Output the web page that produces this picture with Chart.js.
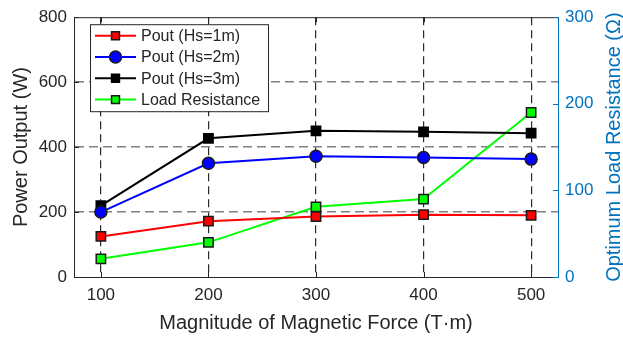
<!DOCTYPE html>
<html>
<head>
<meta charset="utf-8">
<script src="https://cdn.jsdelivr.net/npm/chart.js@4/dist/chart.umd.min.js"></script>
<style>
    html, body { margin: 0; padding: 0; background: #ffffff; }
    canvas { display: block; }
</style>
</head>
<body>
<canvas id="chart" width="623" height="337"></canvas>
<script>
const forceValues = [100, 200, 300, 400, 500];
const poutHs1 = [125, 172, 186, 192, 190];
const poutHs2 = [200, 350, 372, 368, 363];
const poutHs3 = [220, 427, 450, 447, 443];
const loadResistance = [21, 40, 81, 90, 190];

const leftTicks = [0, 200, 400, 600, 800];
const rightTicks = [0, 100, 200, 300];

const FONT = '"Liberation Sans", Arial, sans-serif';
const AXIS_COLOR = '#262626';
const RIGHT_COLOR = '#0072BD';

function toPoints(values) {
    return forceValues.map((x, i) => ({ x, y: values[i] }));
}

function dataset(label, values, color, style, extra) {
    return Object.assign({
        label,
        data: toPoints(values),
        borderColor: color,
        backgroundColor: color,
        borderWidth: 2,
        pointStyle: style,
        pointRadius: 6.6,
        pointBackgroundColor: color,
        pointBorderColor: '#1a1a1a',
        pointBorderWidth: 1.5,
        yAxisID: 'y',
        tension: 0,
    }, extra || {});
}

// legend box inside the plot plus the MATLAB style frame, inward ticks and right title
const framePlugin = {
    id: 'frame',
    afterDraw(chart) {
        const { ctx, chartArea: a, scales } = chart;

        ctx.save();
        ctx.lineWidth = 1;
        ctx.strokeStyle = AXIS_COLOR;
        ctx.beginPath();
        ctx.moveTo(a.left, a.top + 0.5);
        ctx.lineTo(a.right, a.top + 0.5);
        ctx.stroke();

        ctx.beginPath();
        scales.x.ticks.forEach((t) => {
            const px = Math.round(scales.x.getPixelForValue(t.value)) + 0.5;
            ctx.moveTo(px, a.bottom);
            ctx.lineTo(px, a.bottom - 5);
            ctx.moveTo(px, a.top);
            ctx.lineTo(px, a.top + 5);
        });
        scales.y.ticks.forEach((t) => {
            const py = Math.round(scales.y.getPixelForValue(t.value)) + 0.5;
            ctx.moveTo(a.left, py);
            ctx.lineTo(a.left + 5, py);
        });
        ctx.stroke();

        ctx.strokeStyle = RIGHT_COLOR;
        ctx.beginPath();
        scales.y1.ticks.forEach((t) => {
            const py = Math.round(scales.y1.getPixelForValue(t.value)) + 0.5;
            ctx.moveTo(a.right, py);
            ctx.lineTo(a.right - 5, py);
        });
        ctx.stroke();

        // right axis title, reads bottom to top
        ctx.save();
        ctx.translate(614, (a.top + a.bottom) / 2);
        ctx.rotate(-Math.PI / 2);
        ctx.fillStyle = RIGHT_COLOR;
        ctx.font = '20px ' + FONT;
        ctx.textAlign = 'center';
        ctx.textBaseline = 'middle';
        ctx.fillText('Optimum Load Resistance (\u03A9)', 0, 0);
        ctx.restore();

        // legend
        const bx = a.left + 16;
        const by = a.top + 7;
        ctx.fillStyle = '#ffffff';
        ctx.fillRect(bx, by, 178, 87);
        ctx.strokeStyle = AXIS_COLOR;
        ctx.lineWidth = 1;
        ctx.strokeRect(bx + 0.5, by + 0.5, 178, 87);

        ctx.font = '16px ' + FONT;
        ctx.textAlign = 'left';
        ctx.textBaseline = 'middle';
        chart.data.datasets.forEach((ds, i) => {
            const cy = by + 11.5 + i * 21.3;
            ctx.strokeStyle = ds.borderColor;
            ctx.lineWidth = 2;
            ctx.beginPath();
            ctx.moveTo(bx + 5, cy);
            ctx.lineTo(bx + 46, cy);
            ctx.stroke();

            ctx.fillStyle = ds.pointBackgroundColor;
            ctx.strokeStyle = ds.pointBorderColor;
            ctx.lineWidth = ds.pointBorderWidth;
            Chart.helpers.drawPoint(ctx, {
                pointStyle: ds.pointStyle,
                radius: ds.pointStyle === 'circle' ? ds.pointRadius : 5.6,
                rotation: 0,
                borderWidth: ds.pointBorderWidth,
            }, bx + 25.5, cy);

            ctx.fillStyle = AXIS_COLOR;
            ctx.fillText(ds.label, bx + 51, cy + 1);
        });
        ctx.restore();
    },
};

new Chart(document.getElementById('chart'), {
    type: 'line',
    data: {
        datasets: [
            dataset('Pout (Hs=1m)', poutHs1, '#ff0000', 'rect'),
            dataset('Pout (Hs=2m)', poutHs2, '#0000ff', 'circle', { pointRadius: 6 }),
            dataset('Pout (Hs=3m)', poutHs3, '#000000', 'rect', { pointBorderColor: '#000000' }),
            dataset('Load Resistance', loadResistance, '#00ff00', 'rect', { yAxisID: 'y1' }),
        ],
    },
    options: {
        responsive: false,
        animation: false,
        layout: {
            padding: { top: 15, left: 0, right: 0, bottom: 0 },
        },
        plugins: {
            legend: { display: false },
            tooltip: { enabled: false },
        },
        scales: {
            x: {
                type: 'linear',
                position: 'bottom',
                min: 75,
                max: 525,
                afterFit(scale) { scale.height = 60; },
                ticks: {
                    stepSize: 100,
                    includeBounds: false,
                    padding: 8,
                    color: AXIS_COLOR,
                    font: { family: FONT, size: 17 },
                },
                grid: {
                    color: '#2a2a2a',
                    lineWidth: 1.2,
                    drawTicks: false,
                },
                border: {
                    display: true,
                    color: AXIS_COLOR,
                    width: 1,
                    dash: [8, 5],
                },
                title: {
                    display: true,
                    text: 'Magnitude of Magnetic Force (T\u00B7m)',
                    color: AXIS_COLOR,
                    font: { family: FONT, size: 20 },
                    padding: { top: 0, bottom: 2 },
                },
            },
            y: {
                position: 'left',
                min: 0,
                max: 800,
                afterFit(scale) { scale.width = 74; },
                afterBuildTicks(scale) { scale.ticks = leftTicks.map((v) => ({ value: v })); },
                ticks: {
                    padding: 7,
                    color: AXIS_COLOR,
                    font: { family: FONT, size: 17 },
                },
                grid: {
                    color: (c) => (c.tick && (c.tick.value === 0 || c.tick.value === 800) ? 'rgba(0,0,0,0)' : '#808080'),
                    lineWidth: 1.5,
                    drawTicks: false,
                },
                border: {
                    display: true,
                    color: AXIS_COLOR,
                    width: 1,
                    dash: [9, 5],
                },
                title: {
                    display: true,
                    text: 'Power Output (W)',
                    color: AXIS_COLOR,
                    font: { family: FONT, size: 20 },
                    padding: { top: 9, bottom: 0 },
                },
            },
            y1: {
                position: 'right',
                min: 0,
                max: 300,
                afterFit(scale) { scale.width = 65; },
                afterBuildTicks(scale) { scale.ticks = rightTicks.map((v) => ({ value: v })); },
                ticks: {
                    padding: 7,
                    color: RIGHT_COLOR,
                    font: { family: FONT, size: 17 },
                },
                grid: {
                    display: false,
                    drawOnChartArea: false,
                    drawTicks: false,
                },
                border: {
                    display: true,
                    color: RIGHT_COLOR,
                    width: 1,
                },
            },
        },
    },
    plugins: [framePlugin],
});
</script>
</body>
</html>
